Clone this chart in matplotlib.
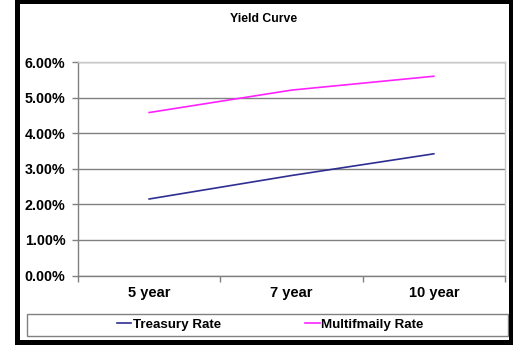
import matplotlib
matplotlib.use("Agg")
import matplotlib.pyplot as plt
from matplotlib.patches import Rectangle
from matplotlib.ticker import FuncFormatter

categories = ["5 year", "7 year", "10 year"]
treasury = [2.15, 2.81, 3.42]
multifamily = [4.58, 5.21, 5.60]
series_labels = ["Treasury Rate", "Multifmaily Rate"]
title = "Yield Curve"

W, H = 513, 345
fig = plt.figure(figsize=(W / 100, H / 100), dpi=100)
fig.patch.set_facecolor("white")
plt.rcParams['font.family'] = ['Liberation Sans', 'DejaVu Sans']

def fx(px):
    return px / W

def fy(py):
    return 1 - py / H

# plot area
left, right, top, bottom = 78, 505, 62, 275.5
ax = fig.add_axes([fx(left), fy(bottom), fx(right) - fx(left), fy(top) - fy(bottom)])

x = list(range(len(categories)))
l1, = ax.plot(x, treasury, color="#2e2e92", lw=1.2, label=series_labels[0])
l2, = ax.plot(x, multifamily, color="#ff22ff", lw=1.2, label=series_labels[1])

ax.set_xlim(-0.5, len(categories) - 0.5)
ax.set_ylim(0, 6)
ax.set_yticks([0, 1, 2, 3, 4, 5, 6])
ax.yaxis.set_major_formatter(FuncFormatter(lambda v, p: f"{v:.2f}%"))
ax.yaxis.grid(True, color="#808080", lw=1.0)
ax.set_axisbelow(True)

ax.set_xticks([i - 0.5 for i in range(len(categories) + 1)])
ax.set_xticklabels([])
ax.set_xticks(x, minor=True)
ax.set_xticklabels(categories, minor=True, fontsize=10.5, fontweight="bold")
ax.tick_params(axis="x", which="minor", length=0, pad=7.5)
ax.tick_params(axis="x", which="major", length=4, color="#808080", width=1)
ax.tick_params(axis="y", length=4, color="#808080", width=1, pad=5.0,
               labelsize=10.3, labelcolor="black")
for lab in ax.get_yticklabels():
    lab.set_fontweight("bold")

ax.spines["left"].set_color("#808080")
ax.spines["bottom"].set_color("#808080")
ax.spines["top"].set_color("#c8c8c8")
ax.spines["right"].set_color("#c8c8c8")
for s in ax.spines.values():
    s.set_linewidth(1.0)

fig.text(fx(264), fy(19.5), title, ha="center", va="center",
         fontsize=8.8, fontweight="bold")

# legend frame
fig.add_artist(Rectangle((fx(27), fy(336)), fx(507.5) - fx(27), fy(314) - fy(336),
                         transform=fig.transFigure, facecolor="none",
                         edgecolor="#808080", lw=1.0))
fig.legend(handles=[l1, l2], loc="center", bbox_to_anchor=(fx(270), fy(325)),
           ncol=2, frameon=False, handlelength=1.1, handletextpad=0.1,
           columnspacing=6.3, prop={"size": 9.6, "weight": "bold"})

# black border
black = "black"
for (x0, y0, x1, y1) in [(15, 0, 20, 345), (15, 0, 513, 4), (508.5, 0, 513, 345), (15, 340, 513, 345)]:
    fig.add_artist(Rectangle((fx(x0), fy(y1)), fx(x1) - fx(x0), fy(y0) - fy(y1),
                             transform=fig.transFigure, facecolor=black,
                             edgecolor="none"))

fig.savefig("out.png", dpi=100)
